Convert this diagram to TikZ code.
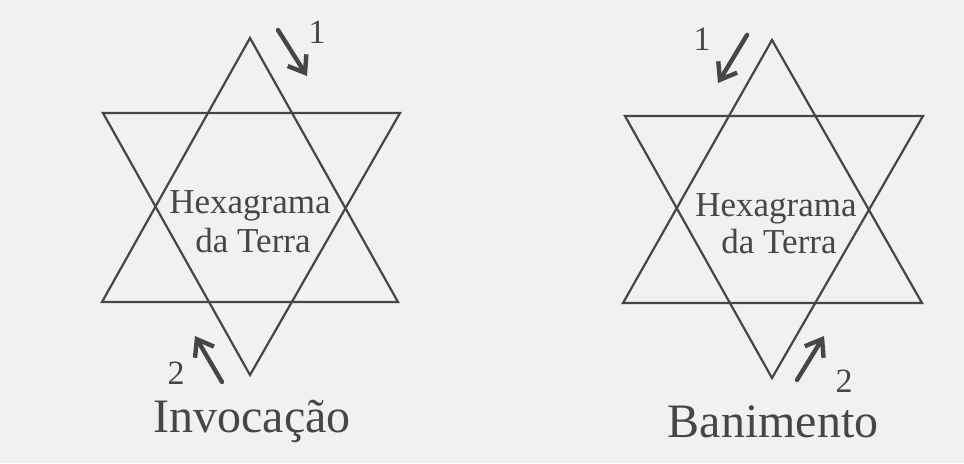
\documentclass[tikz,border=0pt]{standalone}
\usepackage{fontspec}
\setmainfont{Liberation Serif}
\usetikzlibrary{arrows.meta}

\definecolor{paper}{RGB}{241,241,240}
\definecolor{ink}{RGB}{70,70,70}

\begin{document}
\begin{tikzpicture}[x=0.5pt,y=-0.5pt,line join=miter,
  star/.style={draw=ink,line width=1.1pt},
  move/.style={draw=ink,line width=2.2pt,line cap=round,
    -{Straight Barb[length=7.5pt,width=11pt]}},
  inner/.style={text=ink,font=\fontsize{17.5}{19}\selectfont,anchor=base,inner sep=0pt},
  title/.style={text=ink,font=\fontsize{24}{26}\selectfont,anchor=base,inner sep=0pt},
  num/.style={text=ink,font=\fontsize{17}{19}\selectfont,anchor=base,inner sep=0pt}]
  \useasboundingbox (0,0) rectangle (964,463);
  \fill[paper] (0,0) rectangle (964,463);

  % Invocation hexagram (left)
  \coordinate (lup) at (250,38);
  \coordinate (lbl) at (102,302);
  \coordinate (lbr) at (398,302);
  \coordinate (ldn) at (250,375);
  \coordinate (ltl) at (103,113);
  \coordinate (ltr) at (400,113);
  \draw[star] (lup)--(lbr)--(lbl)--cycle;
  \draw[star] (ldn)--(ltl)--(ltr)--cycle;
  \node[inner] (lhex) at (250,213) {Hexagrama};
  \node[inner] (lter) at (253,252) {da Terra};

  \coordinate (la1) at (278,30);
  \coordinate (lb1) at (307,76);
  \draw[move] (la1)--(lb1);
  \node[num] (ln1) at (317,43) {1};
  \coordinate (la2) at (222,382);
  \coordinate (lb2) at (195,336);
  \draw[move] (la2)--(lb2);
  \node[num] (ln2) at (176,384) {2};
  \node[title] (inv) at (252,432) {Invocação};

  % Banishing hexagram (right)
  \coordinate (rup) at (772,40);
  \coordinate (rbl) at (623,303);
  \coordinate (rbr) at (922,303);
  \coordinate (rdn) at (772,378);
  \coordinate (rtl) at (625,116);
  \coordinate (rtr) at (923,116);
  \draw[star] (rup)--(rbr)--(rbl)--cycle;
  \draw[star] (rdn)--(rtl)--(rtr)--cycle;
  \node[inner] (rhex) at (776,216) {Hexagrama};
  \node[inner] (rter) at (779,253) {da Terra};

  \coordinate (ra1) at (747,35);
  \coordinate (rb1) at (718,83);
  \draw[move] (ra1)--(rb1);
  \node[num] (rn1) at (702,50) {1};
  \coordinate (ra2) at (797,380);
  \coordinate (rb2) at (824,336);
  \draw[move] (ra2)--(rb2);
  \node[num] (rn2) at (844,392) {2};
  \node[title] (ban) at (773,437) {Banimento};
\end{tikzpicture}
\end{document}
